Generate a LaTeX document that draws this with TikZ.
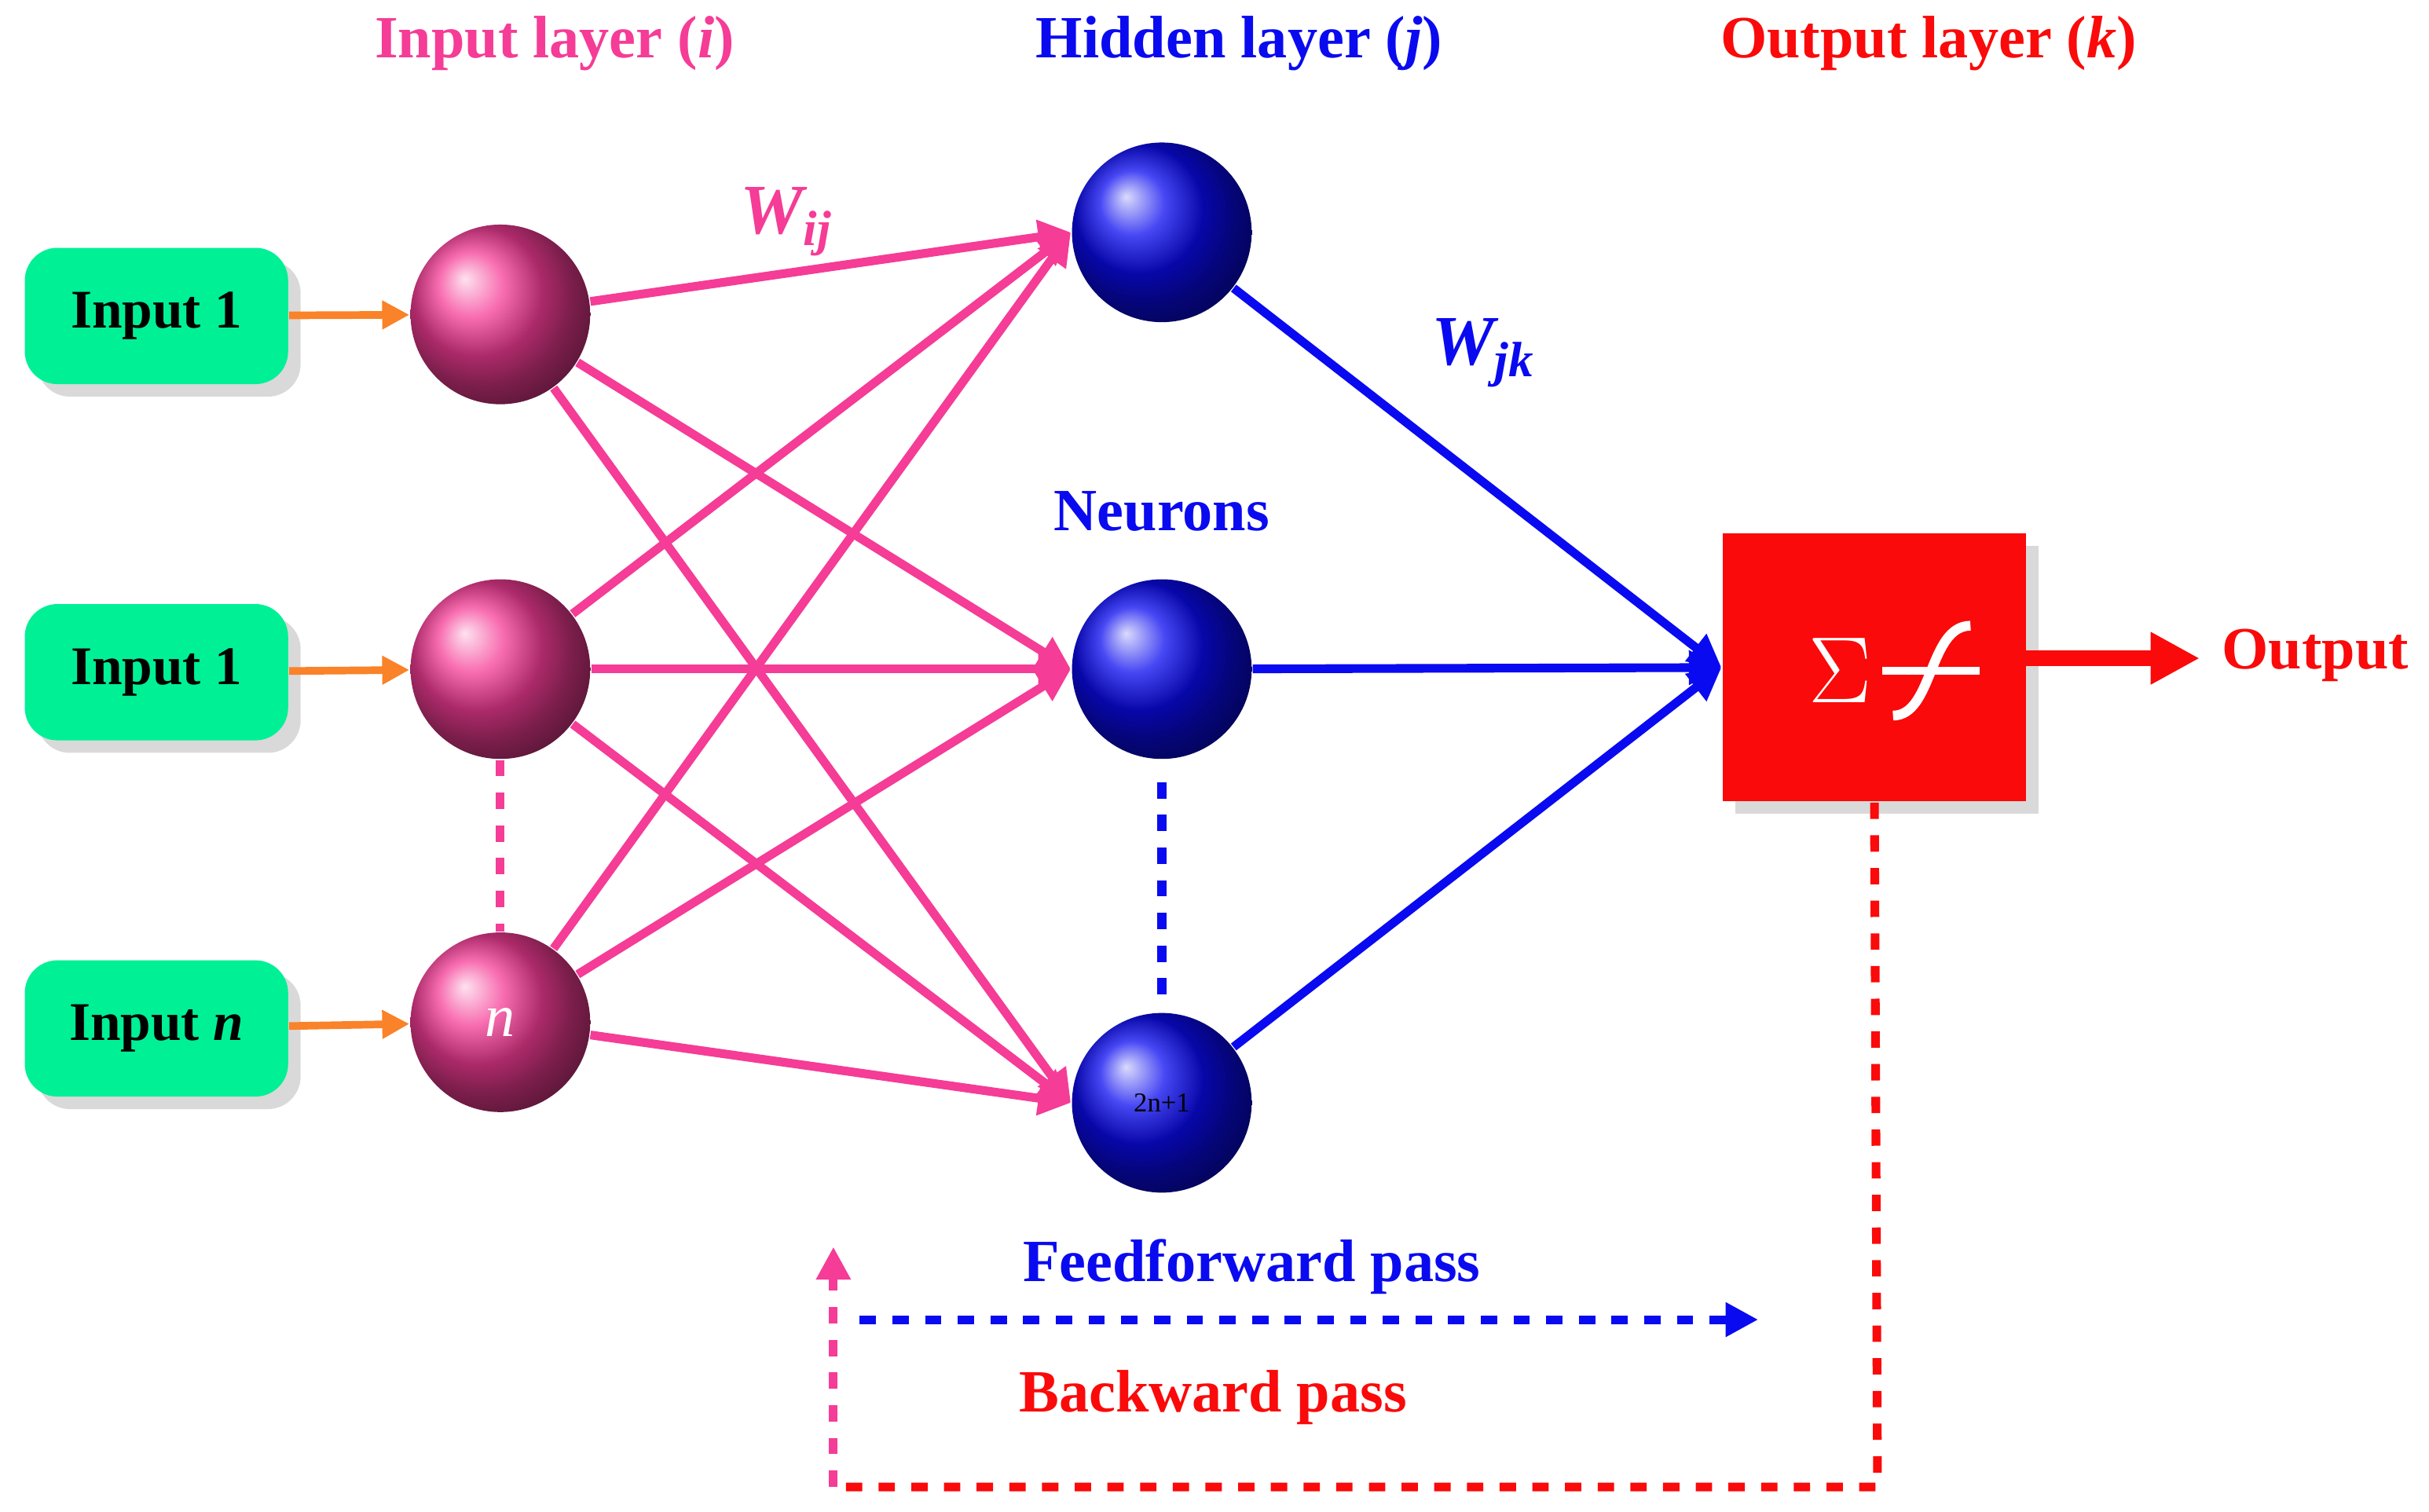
\documentclass[tikz,border=0pt]{standalone}
\usepackage{fontspec}
\setmainfont{Liberation Serif}
\usetikzlibrary{arrows.meta,shadows}
\definecolor{pk}{RGB}{245,60,150}
\definecolor{bl}{RGB}{10,10,240}
\definecolor{rd}{RGB}{250,10,10}
\definecolor{gr}{RGB}{0,240,150}
\definecolor{og}{RGB}{250,130,40}
\begin{document}
\begin{tikzpicture}[x=0.01cm,y=-0.01cm,
 title/.style={font=\fontsize{11}{13}\bfseries\selectfont},
 inbox/.style={fill=gr,rounded corners=6pt,minimum width=170*0.01cm,minimum height=88*0.01cm,font=\fontsize{10}{12}\bfseries\selectfont,drop shadow={opacity=0.3}},
 pn/.style={circle,minimum size=116*0.01cm,inner sep=0pt,ball color=pk,draw=none},
 bn/.style={circle,minimum size=116*0.01cm,inner sep=0pt,ball color=bl,draw=none},
 pl/.style={pk,line width=1.6pt,-{Triangle[length=6pt,width=6pt]}},
 blu/.style={bl,line width=1.6pt,-{Triangle[length=6pt,width=6pt]}},
 oa/.style={og,line width=1.4pt,-{Triangle[length=5pt,width=5pt]}}]
\useasboundingbox (0,0) rectangle (1568,976);
\node[title,text=pk] (t1) at (358,28) {Input layer (\textit{i})};
\node[title,text=bl] (t2) at (800,28) {Hidden layer (\textit{j})};
\node[title,text=rd] (t3) at (1245,28) {Output layer (\textit{k})};
\node[inbox] (b1) at (101,204) {Input 1};
\node[inbox] (b2) at (101,434) {Input 1};
\node[inbox] (b3) at (101,664) {Input \textit{n}};
\node[pn] (i1) at (323,203) {};
\node[pn] (i2) at (323,432) {};
\node[pn,text=white,font=\fontsize{11}{13}\itshape\selectfont] (i3) at (323,660) {n};
\node[bn] (h1) at (750,150) {};
\node[bn] (h2) at (750,432) {};
\node[bn,font=\fontsize{5}{6}\selectfont] (h3) at (750,712) {2n+1};
\foreach \b/\i in {b1/i1,b2/i2,b3/i3} \draw[oa] (\b) -- (\i);
\foreach \i in {i1,i2,i3} \foreach \h in {h1,h2,h3} \draw[pl] (\i) -- (\h.west);
\draw[pk,line width=1.6pt,dashed] (i2) -- (i3);
\draw[bl,line width=1.6pt,dashed] (750,505) -- (750,645);
\node[text=pk,font=\fontsize{13}{15}\bfseries\itshape\selectfont] (wij) at (508,143) {W\textsubscript{ij}};
\node[text=bl,font=\fontsize{13}{15}\bfseries\itshape\selectfont] (wjk) at (958,228) {W\textsubscript{jk}};
\node[title,text=bl] (neu) at (750,330) {Neurons};
\node[fill=rd,minimum width=196*0.01cm,minimum height=173*0.01cm,drop shadow={opacity=0.3}] (out) at (1210,431) {};
\node[text=white,font=\fontsize{17}{19}\selectfont] (sig) at (1188,433) {$\Sigma$};
\draw[white,line width=1.8pt] (1222,462) .. controls (1248,462) and (1245,404) .. (1272,404);
\draw[white,line width=1.4pt] (1215,433) -- (1278,433);
\foreach \h in {h1,h2,h3} \draw[blu] (\h) -- (out.west);
\draw[rd,line width=3pt,-{Triangle[length=9pt,width=9pt]}] (1308,425) -- (1420,425) coordinate (oe);
\node[title,text=rd,anchor=west] (ot) at (1422,423) {Output};
\node[title,text=bl] (ff) at (808,818) {Feedforward pass};
\node[title,text=rd] (bp) at (783,902) {Backward pass};
\coordinate (f1) at (555,852); \coordinate (f2) at (1135,852);
\draw[bl,line width=1.6pt,dashed,-{Triangle[length=6pt,width=6pt]}] (f1) -- (f2);
\coordinate (c1) at (1212,960); \coordinate (c2) at (538,960); \coordinate (c3) at (538,805);
\draw[rd,line width=1.6pt,dashed] (out.south) -- (c1) -- (c2);
\draw[pk,line width=1.6pt,dashed,-{Triangle[length=6pt,width=6pt]}] (c2) -- (c3);
\end{tikzpicture}
\end{document}
